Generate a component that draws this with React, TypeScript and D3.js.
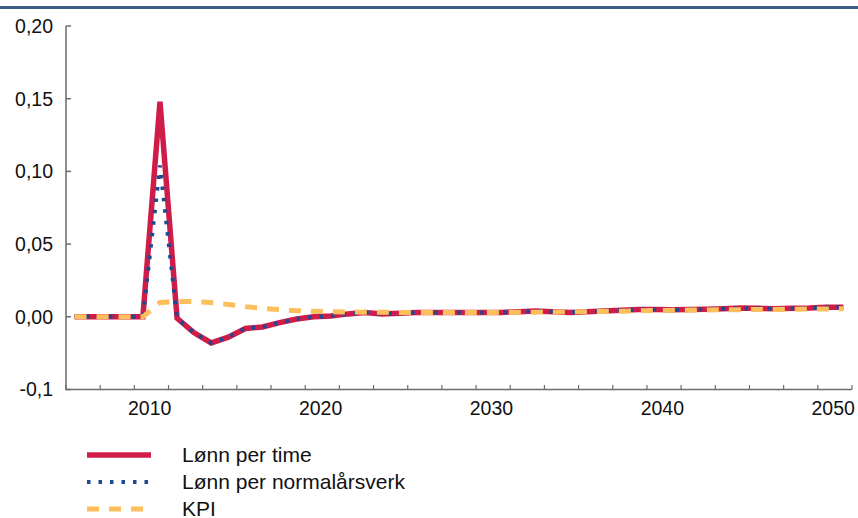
import React from "react";
import * as d3 from "d3";

const years: number[] = d3.range(2005, 2051);

const lonnPerTime: number[] = [
  0, 0, 0, 0, 0, 0.148, -0.001, -0.011, -0.018, -0.014,
  -0.008, -0.007, -0.004, -0.0015, 0.0, 0.0005, 0.002, 0.003, 0.002, 0.0025,
  0.003, 0.003, 0.003, 0.003, 0.003, 0.003, 0.0035, 0.004, 0.0035, 0.003,
  0.0035, 0.004, 0.0045, 0.005, 0.005, 0.0048, 0.005, 0.0052, 0.0055, 0.006,
  0.0058, 0.0055, 0.0058, 0.006, 0.0065, 0.0065,
];

const lonnPerNormalarsverk: number[] = [
  0, 0, 0, 0, 0, 0.104, -0.001, -0.011, -0.018, -0.014,
  -0.008, -0.007, -0.004, -0.0015, 0.0, 0.0005, 0.002, 0.003, 0.002, 0.0025,
  0.003, 0.003, 0.003, 0.003, 0.003, 0.003, 0.0035, 0.004, 0.0035, 0.003,
  0.0035, 0.004, 0.0045, 0.005, 0.005, 0.0048, 0.005, 0.0052, 0.0055, 0.006,
  0.0058, 0.0055, 0.0058, 0.006, 0.0065, 0.0065,
];

const kpi: number[] = [
  0, 0, 0, 0, 0, 0.0098, 0.0105, 0.0105, 0.0098, 0.0085,
  0.007, 0.0058, 0.005, 0.0042, 0.0038, 0.0035, 0.0033, 0.0032, 0.0031, 0.003,
  0.003, 0.003, 0.003, 0.003, 0.003, 0.003, 0.0031, 0.0032, 0.0033, 0.0034,
  0.0035, 0.0037, 0.0039, 0.0041, 0.0043, 0.0045, 0.0046, 0.0047, 0.0048, 0.0049,
  0.005, 0.0051, 0.0052, 0.0053, 0.0054, 0.0055,
];

const yTickValues: number[] = [0.2, 0.15, 0.1, 0.05, 0.0, -0.05];
const yTickLabels: string[] = ["0,20", "0,15", "0,10", "0,05", "0,00", "-0,1"];
const xLabelYears: number[] = [2010, 2020, 2030, 2040, 2050];

const seriesNames: string[] = ["Lønn per time", "Lønn per normalårsverk", "KPI"];

const RED = "#d01c49";
const BLUE = "#1d4b93";
const YELLOW = "#fdbe5c";
const AXIS = "#6b6b6b";
const FONT = "'Liberation Sans', Arial, sans-serif";

export default function App() {
  const W = 858;
  const H = 518;
  const x = d3.scaleLinear().domain([2004.5, 2050.5]).range([66, 852]);
  const y = d3.scaleLinear().domain([-0.05, 0.2]).range([389.5, 26]);

  const line = d3
    .line<number>()
    .x((_, i) => x(years[i]))
    .y((d) => y(d));

  const xTicks = d3.range(0, 24).map((k) => 2004.5 + 2 * k);

  const series = [
    { name: seriesNames[0], values: lonnPerTime, color: RED, width: 5.5, dash: undefined as string | undefined },
    { name: seriesNames[1], values: lonnPerNormalarsverk, color: BLUE, width: 4, dash: "3.5 8" },
    { name: seriesNames[2], values: kpi, color: YELLOW, width: 5, dash: "12 10" },
  ];

  const legendY = [455, 482, 509];

  return (
    <svg
      width={W}
      height={H}
      style={{ position: "absolute", left: 0, top: 0, background: "#fff" }}
      fontFamily={FONT}
    >
      <rect x={0} y={0} width={W} height={H} fill="#fff" />
      <rect x={0} y={6} width={W} height={3} fill="#3d5a87" />

      {/* Y axis */}
      <line x1={66} x2={66} y1={y(0.2)} y2={y(-0.05)} stroke={AXIS} strokeWidth={1.5} />
      {yTickValues.map((v, i) => (
        <g key={"yt" + i}>
          <line x1={66} x2={71} y1={y(v)} y2={y(v)} stroke={AXIS} strokeWidth={1.5} />
          <text x={53} y={y(v)} dy="0.35em" textAnchor="end" fontSize={19.5} fill="#111">
            {yTickLabels[i]}
          </text>
        </g>
      ))}

      {/* X axis */}
      <line x1={65.25} x2={852} y1={y(-0.05)} y2={y(-0.05)} stroke={AXIS} strokeWidth={1.5} />
      {xTicks.map((t, i) => (
        <line key={"xt" + i} x1={x(t)} x2={x(t)} y1={y(-0.05)} y2={y(-0.05) - 4.5} stroke={AXIS} strokeWidth={1.2} />
      ))}
      {xLabelYears.map((yr) => (
        <text key={"xl" + yr} x={x(yr - 0.6)} y={408} dy="0.35em" textAnchor="middle" fontSize={19.5} fill="#111">
          {yr}
        </text>
      ))}

      {/* Series */}
      {series.map((s) => (
        <path
          key={s.name}
          d={line(s.values) || ""}
          fill="none"
          stroke={s.color}
          strokeWidth={s.width}
          strokeDasharray={s.dash}
          strokeLinejoin="miter"
          strokeMiterlimit={4}
          strokeLinecap="butt"
        />
      ))}

      {/* Legend */}
      {series.map((s, i) => (
        <g key={"lg" + i}>
          <line
            x1={87}
            x2={151}
            y1={legendY[i]}
            y2={legendY[i]}
            stroke={s.color}
            strokeWidth={s.width}
            strokeDasharray={s.dash}
          />
          <text x={182} y={legendY[i]} dy="0.35em" fontSize={21} fill="#111">
            {s.name}
          </text>
        </g>
      ))}
    </svg>
  );
}
